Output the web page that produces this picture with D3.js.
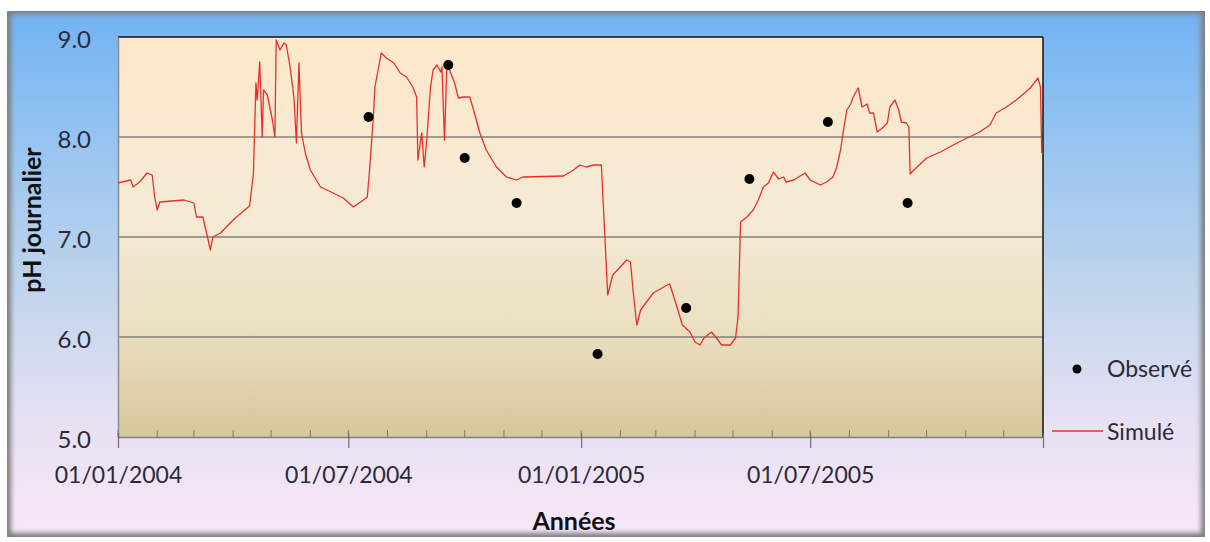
<!DOCTYPE html>
<html><head><meta charset="utf-8">
<script src="https://cdn.jsdelivr.net/npm/d3@7"></script>
<style>html,body{margin:0;padding:0;background:#fff;}svg{display:block;}</style>
</head><body>
<script>
// ---- data ----
const startDate = "2004-01-01";
const endDate = "2006-01-01";
// simulated daily pH: days since 2004-01-01 and values
const simDay = [0,10,12,17,23,27,29,31,33,52,60,62,67,70,73,75,81,91,102,104,107,109,110,112,114,115,118,122,124,125,128,131,133,136,139,141,143,145,148,152,160,170,178,186,194,197,199,202,203,206,208,212,218,223,228,233,236,237,240,242,244,247,249,252,255,256,258,260,262,266,269,273,278,281,286,291,299,307,315,320,352,360,365,370,376,382,387,391,402,405,407,410,413,423,434,436,442,446,452,456,460,463,469,473,477,484,488,490,492,497,502,506,510,514,518,522,526,528,534,543,547,555,560,565,568,571,573,576,579,581,584,585,588,592,594,597,600,604,608,610,614,617,619,623,625,626,629,639,650,660,671,681,689,694,702,710,721,727,729,730];
const simPH = [7.54,7.57,7.50,7.55,7.64,7.62,7.40,7.27,7.35,7.37,7.34,7.20,7.20,7.04,6.87,7.00,7.04,7.17,7.29,7.31,7.63,8.54,8.37,8.75,8.00,8.47,8.42,8.17,8.00,8.97,8.87,8.94,8.92,8.70,8.40,7.94,8.74,8.04,7.84,7.67,7.50,7.44,7.39,7.30,7.37,7.40,7.70,8.24,8.50,8.70,8.84,8.79,8.74,8.64,8.60,8.50,8.40,7.77,8.04,7.70,7.97,8.50,8.67,8.72,8.65,8.70,7.97,8.74,8.67,8.54,8.39,8.40,8.40,8.27,8.04,7.87,7.70,7.60,7.57,7.60,7.61,7.67,7.72,7.70,7.72,7.72,6.42,6.62,6.77,6.75,6.47,6.12,6.27,6.44,6.52,6.53,6.29,6.12,6.05,5.95,5.92,5.99,6.05,5.99,5.92,5.92,5.99,6.20,7.15,7.20,7.27,7.37,7.50,7.54,7.65,7.58,7.60,7.55,7.57,7.64,7.57,7.52,7.55,7.60,7.70,7.87,8.04,8.27,8.33,8.40,8.47,8.49,8.30,8.33,8.24,8.24,8.05,8.09,8.14,8.30,8.37,8.27,8.15,8.14,8.10,7.63,7.67,7.79,7.85,7.92,7.99,8.05,8.12,8.24,8.30,8.37,8.49,8.59,8.50,7.84];
// observed pH
const obsDates = ["2004-07-17","2004-09-18","2004-10-01","2004-11-11","2005-01-14","2005-03-25","2005-05-14","2005-07-15","2005-09-16"];
const obsPH = [8.20,8.72,7.79,7.34,5.83,6.29,7.58,8.15,7.34];
// axes
const yTicks = [5,6,7,8,9];
const yGrid = [6,7,8];
const xTickDates = ["2004-01-01","2004-07-01","2005-01-01","2005-07-01","2006-01-01"];
const xTickLabels = ["01/01/2004","01/07/2004","01/01/2005","01/07/2005",""];
const seriesNames = ["Observé","Simulé"];
const yTitle = "pH journalier";
const xTitle = "Années";

// ---- drawing ----
const W = 1210, H = 542;
const parse = d3.utcParse("%Y-%m-%d");
const t0 = parse(startDate);
const svg = d3.select("body").append("svg").attr("width", W).attr("height", H);
const defs = svg.append("defs");

const gOuter = defs.append("linearGradient").attr("id","gOuter").attr("x1",0).attr("y1",0).attr("x2",0).attr("y2",1);
[[0,"#72b2f3"],[0.18,"#8dc0f2"],[0.5,"#bcd3ec"],[0.78,"#e6e1f3"],[1,"#f8e6f8"]].forEach(s=>gOuter.append("stop").attr("offset",s[0]).attr("stop-color",s[1]));
const gPlot = defs.append("linearGradient").attr("id","gPlot").attr("x1",0).attr("y1",0).attr("x2",0).attr("y2",1);
[[0,"#fde8cb"],[0.45,"#f5ead5"],[0.72,"#ebe0c2"],[1,"#d6c69b"]].forEach(s=>gPlot.append("stop").attr("offset",s[0]).attr("stop-color",s[1]));
const blur = defs.append("filter").attr("id","soft").attr("x","-5%").attr("y","-5%").attr("width","110%").attr("height","110%");
blur.append("feGaussianBlur").attr("stdDeviation",2.5);

// frame
svg.append("rect").attr("x",7).attr("y",11).attr("width",1198).attr("height",526).attr("fill","#7e7e7e");
svg.append("rect").attr("x",11).attr("y",14).attr("width",1190).attr("height",519).attr("fill","url(#gOuter)").attr("filter","url(#soft)");

const x = d3.scaleUtc().domain([parse(startDate), parse(endDate)]).range([118,1043]);
const y = d3.scaleLinear().domain([5,9]).range([437,37]);

// plot background
svg.append("rect").attr("x",x.range()[0]).attr("y",y(9)).attr("width",x.range()[1]-x.range()[0]).attr("height",y(5)-y(9)).attr("fill","url(#gPlot)");

// gridlines
svg.append("g").selectAll("line").data(yGrid).join("line")
  .attr("x1",x.range()[0]).attr("x2",x.range()[1]).attr("y1",d=>y(d)).attr("y2",d=>y(d))
  .attr("stroke","#85807a").attr("stroke-width",1.5);
// top & right borders
svg.append("line").attr("x1",x.range()[0]).attr("x2",x.range()[1]).attr("y1",y(9)).attr("y2",y(9)).attr("stroke","#111").attr("stroke-width",1.5);
svg.append("line").attr("x1",x.range()[1]).attr("x2",x.range()[1]).attr("y1",y(9)).attr("y2",y(5)).attr("stroke","#111").attr("stroke-width",1.5);

// minor month ticks
const months = d3.utcMonth.range(parse(startDate), parse(endDate));
svg.append("g").selectAll("line").data(months).join("line")
  .attr("x1",d=>x(d)).attr("x2",d=>x(d)).attr("y1",y(5)-7).attr("y2",y(5))
  .attr("stroke","#7d7868").attr("stroke-width",1);

// y axis
const yAxis = svg.append("g").attr("transform",`translate(${x.range()[0]},0)`)
  .call(d3.axisLeft(y).tickValues(yTicks).tickFormat(d3.format(".1f")).tickSize(0).tickPadding(27));
yAxis.select(".domain").attr("stroke","#8c8c8c").attr("stroke-width",1.5);
yAxis.selectAll("text").attr("font-family","Lato").attr("font-size",24).attr("fill","#2b2b38").attr("dy","0.42em");

// x axis
const xAxis = svg.append("g").attr("transform",`translate(0,${y(5)})`)
  .call(d3.axisBottom(x).tickValues(xTickDates.map(parse)).tickFormat((d,i)=>xTickLabels[i]).tickSizeInner(11).tickSizeOuter(0).tickPadding(19));
xAxis.select(".domain").attr("stroke","#7f7f7f").attr("stroke-width",1.5);
xAxis.selectAll(".tick line").attr("y1",-4).attr("stroke","#707070").attr("stroke-width",1.2);
xAxis.selectAll("text").attr("font-family","Lato").attr("font-size",23).attr("fill","#2b2b38");

// simulated line
const simData = simDay.map((d,i)=>({date:d3.utcDay.offset(t0,d), v:simPH[i]}));
svg.append("path").datum(simData)
  .attr("d", d3.line().x(d=>x(d.date)).y(d=>y(d.v)))
  .attr("fill","none").attr("stroke","#e8302a").attr("stroke-width",1.3).attr("stroke-linejoin","round");

// observed points
svg.append("g").selectAll("circle").data(obsDates.map((d,i)=>({date:parse(d), v:obsPH[i]}))).join("circle")
  .attr("cx",d=>x(d.date)).attr("cy",d=>y(d.v)).attr("r",5).attr("fill","#000");

// axis titles
svg.append("text").attr("x",574).attr("y",530).attr("text-anchor","middle")
  .attr("font-family","Lato").attr("font-weight","bold").attr("font-size",25).attr("fill","#111").text(xTitle);
svg.append("text").attr("transform","translate(41,220) rotate(-90)").attr("text-anchor","middle")
  .attr("font-family","Lato").attr("font-weight","bold").attr("font-size",25).attr("fill","#111").text(yTitle);

// legend
const lg = svg.append("g");
lg.append("circle").attr("cx",1077).attr("cy",369).attr("r",4.5).attr("fill","#000");
lg.append("text").attr("x",1107).attr("y",369).attr("dy","0.36em").attr("font-family","Lato").attr("font-size",23).attr("fill","#2b2b38").text(seriesNames[0]);
lg.append("line").attr("x1",1052).attr("x2",1103).attr("y1",431).attr("y2",431).attr("stroke","#e8302a").attr("stroke-width",1.5);
lg.append("text").attr("x",1107).attr("y",432).attr("dy","0.36em").attr("font-family","Lato").attr("font-size",23).attr("fill","#2b2b38").text(seriesNames[1]);
</script>
</body></html>
